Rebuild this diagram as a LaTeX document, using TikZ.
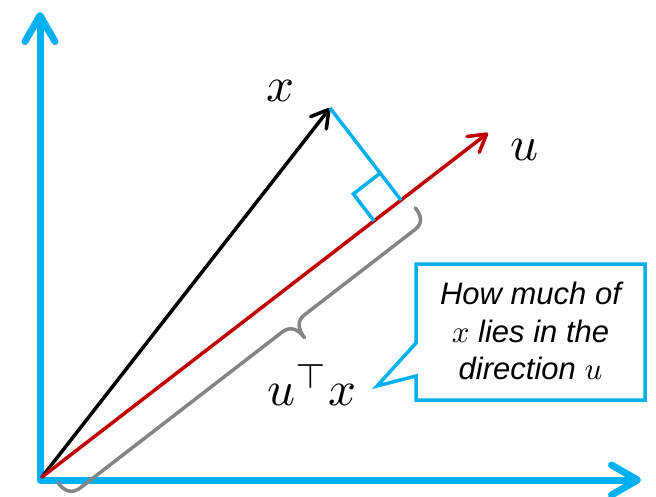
\documentclass[tikz,border=0pt]{standalone}
\usepackage{fontspec}
\newfontfamily\calloutfont{Liberation Sans}
\usetikzlibrary{arrows.meta,calc}
\definecolor{axblue}{HTML}{00B0F0}
\definecolor{vred}{HTML}{C00000}
\definecolor{bracegray}{HTML}{848484}
\begin{document}
\begin{tikzpicture}[x=1pt,y=-1pt,
  axis/.style={draw=axblue,line width=7pt,line join=round,line cap=round,
    {Straight Barb[length=26pt,width=30pt,round]}-{Straight Barb[length=26pt,width=30pt,round]}},
  vec/.style={line width=3.5pt,line cap=round,-{Straight Barb[length=17pt,width=20pt,round]}},
  perpline/.style={draw=axblue,line width=3.5pt},
  bracestyle/.style={draw=bracegray,line width=3.5pt,line cap=round,line join=round},
  mathlbl/.style={inner sep=0pt,scale=4.9},
  callout/.style={draw=axblue,line width=3.5pt,line join=miter,fill=white},
  callouttext/.style={inner sep=0pt,align=center,scale=3.1,font=\calloutfont\itshape\fontsize{10}{12.1}\selectfont}]
\useasboundingbox (0,0) rectangle (656,497);
% axes
\coordinate (ytop) at (40,12);
\coordinate (corner) at (40,480);
\coordinate (xend) at (641,480);
\draw[axis] (ytop) -- (corner) -- (xend);
% vectors
\coordinate (O) at (42,477);
\coordinate (xtip) at (330,108);
\coordinate (utip) at (488,133);
\draw[vec,draw=black] (O) -- (xtip);
\draw[vec,draw=vred] (O) -- (utip);
% projection
\coordinate (F) at ($(O)!(xtip)!(utip)$);
\draw[perpline] (xtip) -- (F);
\coordinate (A) at ($(F)!34pt!(O)$);
\coordinate (B) at ($(F)!34pt!(xtip)$);
\coordinate (C) at ($(A)+(B)-(F)$);
\draw[perpline,line join=miter] (A) -- (C) -- (B);
% brace
\begin{scope}[shift={(O)},rotate=37.66]
\draw[bracestyle] (9,14) .. controls (9,25) and (13,32) .. (24,32)
  -- (279,32) .. controls (288,32) and (293,38) .. (293,50)
  .. controls (293,38) and (298,32) .. (307,32)
  -- (446,32) .. controls (457,32) and (460,25) .. (460,15);
\end{scope}
% labels
\node[mathlbl] (xlab) at (280,91) {$x$};
\node[mathlbl] (ulab) at (525,150) {$u$};
\node[mathlbl] (utx) at (312,385) {$u^{\top}x$};
% callout
\draw[callout] (416,264) -- (645,264) -- (645,400) -- (416,400) -- (416,376)
  -- (377,386) -- (416,343) -- cycle;
\node[callouttext] (ctext) at (530.5,331) {How much of\\$x$ lies in the\\direction $u$};
\end{tikzpicture}
\end{document}
